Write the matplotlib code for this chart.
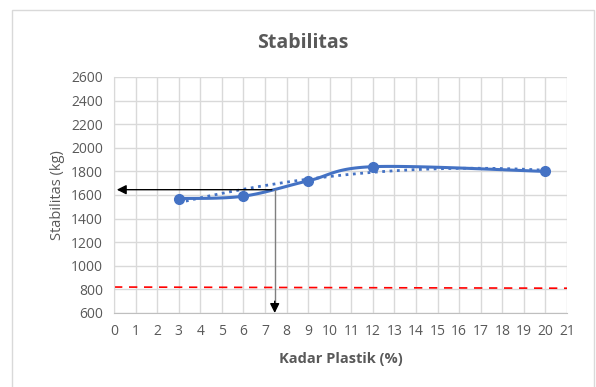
import numpy as np
import matplotlib
matplotlib.use('Agg')
import matplotlib.pyplot as plt
from matplotlib.patches import Rectangle

plt.rcParams['font.family'] = ['Open Sans', 'DejaVu Sans']

kadar = np.array([3., 6., 9., 12., 20.])
stabilitas = np.array([1570., 1590., 1720., 1840., 1800.])
batas_min = [820., 810.]          # red dashed line, left/right ends
x_opt, y_opt = 7.45, 1645.        # reading arrows
xticks = np.arange(0, 22, 1)
yticks = np.arange(600, 2601, 200)

gray = '#595959'
blue = '#4472C4'


def smooth(x, y, n=30):
	# Excel-like smoothed line (Catmull-Rom via bezier)
	px, py = [], []
	m = len(x)
	for i in range(m - 1):
		x0, y0 = x[max(i - 1, 0)], y[max(i - 1, 0)]
		x1, y1 = x[i], y[i]
		x2, y2 = x[i + 1], y[i + 1]
		x3, y3 = x[min(i + 2, m - 1)], y[min(i + 2, m - 1)]
		c1x, c1y = x1 + (x2 - x0) / 6., y1 + (y2 - y0) / 6.
		c2x, c2y = x2 - (x3 - x1) / 6., y2 - (y3 - y1) / 6.
		t = np.linspace(0, 1, n)
		bx = (1-t)**3*x1 + 3*(1-t)**2*t*c1x + 3*(1-t)*t**2*c2x + t**3*x2
		by = (1-t)**3*y1 + 3*(1-t)**2*t*c1y + 3*(1-t)*t**2*c2y + t**3*y2
		px.extend(bx); py.extend(by)
	return np.array(px), np.array(py)


fig = plt.figure(figsize=(5.96, 3.87), dpi=100)
fig.patches.append(Rectangle((12/596., -0.01), (594-12)/596., 1 - 10/387. + 0.01,
	transform=fig.transFigure, fill=False, edgecolor='#d9d9d9', lw=1))
ax = fig.add_axes([114/596., 1 - 313/387., (567-114)/596., (313-77)/387.])

ax.set_xlim(0, 21)
ax.set_ylim(600, 2600)
ax.set_xticks(xticks)
ax.set_yticks(yticks)
ax.grid(True, color='#d9d9d9', lw=1)
ax.set_axisbelow(True)
for s in ax.spines.values():
	s.set_visible(False)
ax.spines['bottom'].set_visible(True)
ax.spines['bottom'].set_color('#bfbfbf')
ax.spines['left'].set_visible(True)
ax.spines['left'].set_color('#d9d9d9')
ax.tick_params(length=0, colors=gray, labelsize=10, pad=8)

# trend line (polynomial)
coef = np.polyfit(kadar, stabilitas, 2)
xt = np.linspace(kadar[0], kadar[-1], 200)
ax.plot(xt, np.polyval(coef, xt), ':', color=blue, lw=2)

sx, sy = smooth(kadar, stabilitas)
ax.plot(sx, sy, '-', color=blue, lw=2.2)
ax.plot(kadar, stabilitas, 'o', color=blue, ms=7)

ax.plot([0, 21], batas_min, '--', color='#ff0000', lw=1.2, dashes=(5, 4))

ax.annotate('', xy=(0, y_opt), xytext=(x_opt, y_opt),
	arrowprops=dict(arrowstyle='-|>', color='black', lw=1, mutation_scale=14))
ax.plot([x_opt, x_opt], [y_opt, 680], color='#7f7f7f', lw=1)
ax.annotate('', xy=(x_opt, 600), xytext=(x_opt, 700),
	arrowprops=dict(arrowstyle='-|>', color='black', lw=1, mutation_scale=14,
		shrinkA=0, shrinkB=0), annotation_clip=False)

ax.set_xlabel('Kadar Plastik (%)', color=gray, fontsize=10.5, fontweight='bold', labelpad=9)
ax.set_ylabel('Stabilitas (kg)', color=gray, fontsize=10.5, labelpad=4)
fig.text(0.5 * (12 + 594) / 596., 1 - 43/387., 'Stabilitas', ha='center', va='center',
	color=gray, fontsize=14, fontweight='bold')

fig.savefig('out.png', dpi=100)
